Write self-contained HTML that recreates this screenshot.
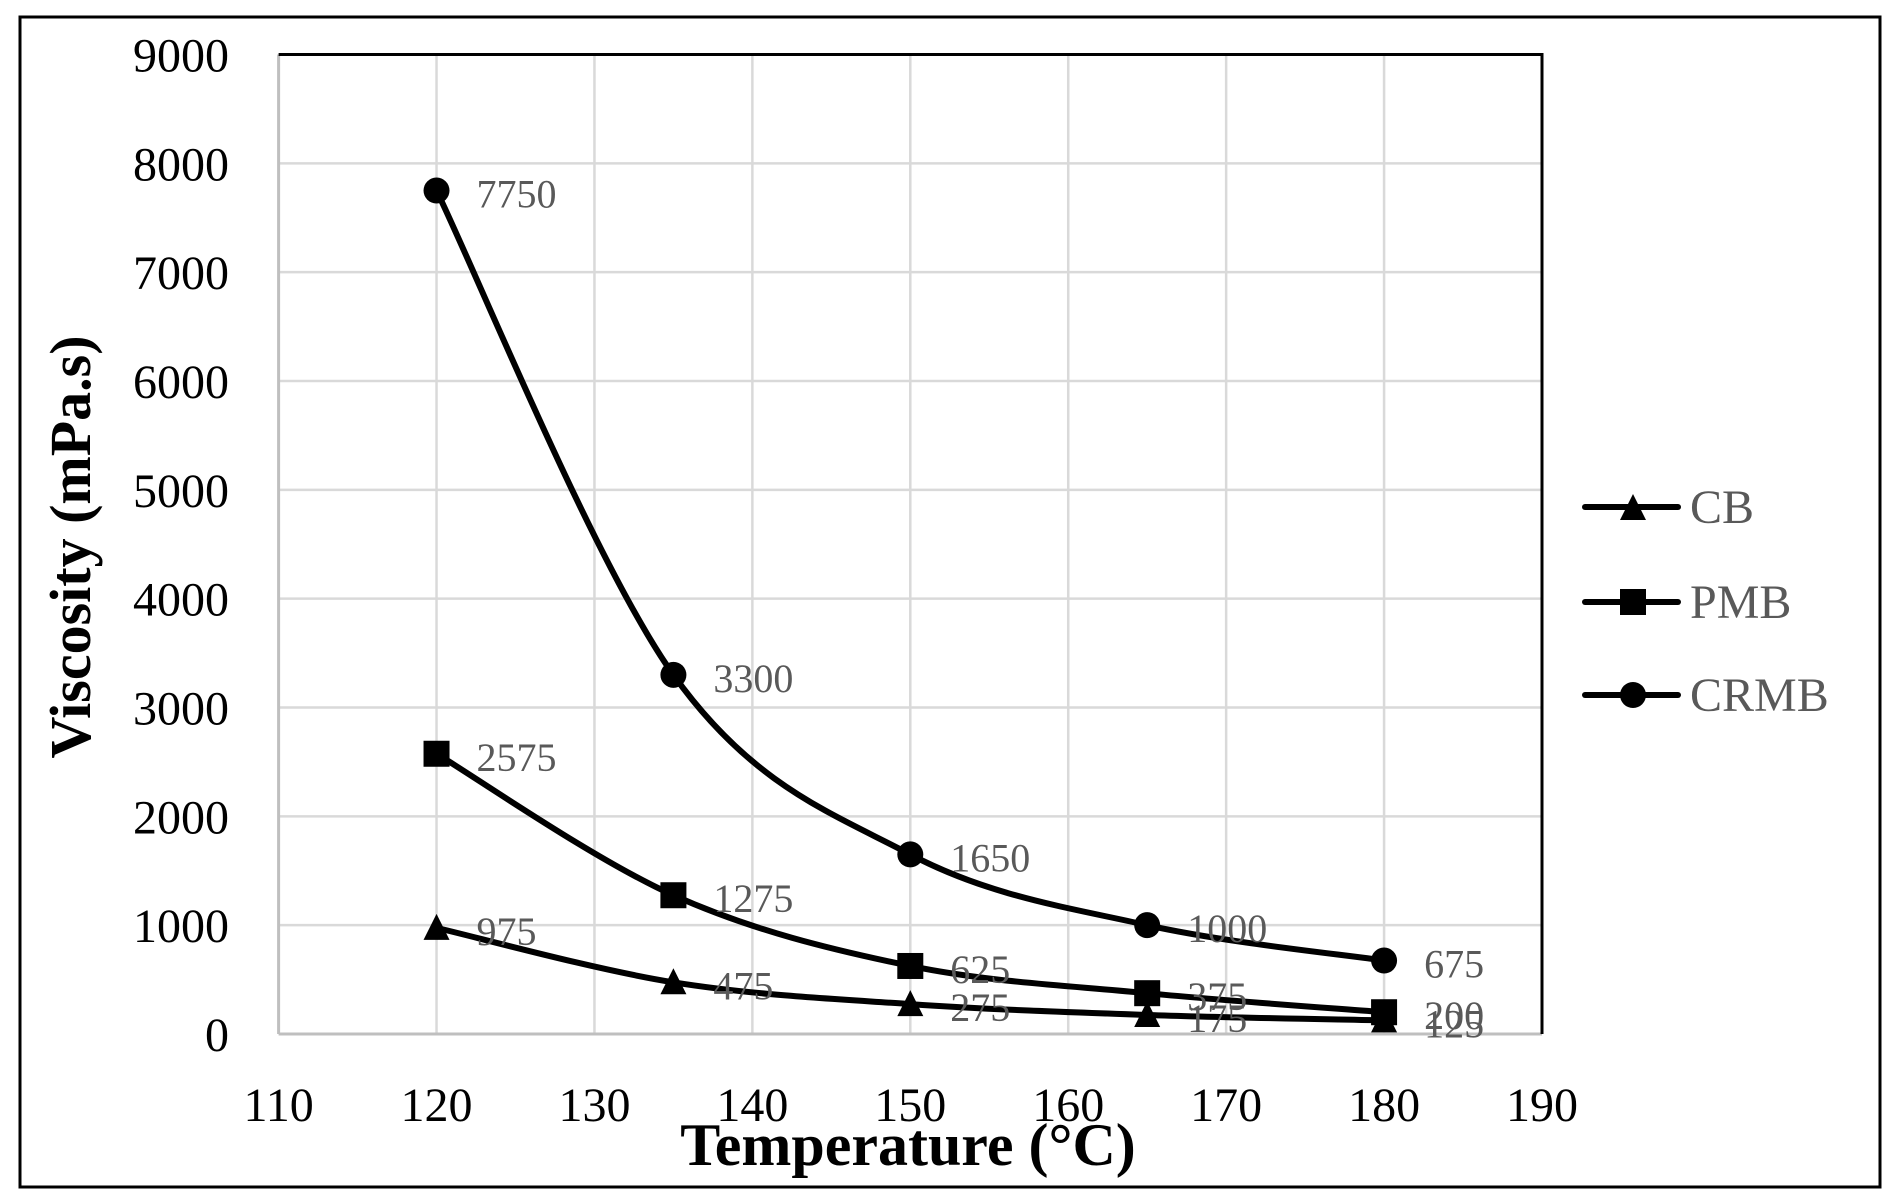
<!DOCTYPE html>
<html><head><meta charset="utf-8"><style>
html,body{margin:0;padding:0;background:#fff;}
svg{display:block;}
text{font-family:"Liberation Serif",serif;}
</style></head><body>
<svg id="s" width="1899" height="1200" xmlns="http://www.w3.org/2000/svg">
<rect x="20" y="17" width="1860" height="1170" fill="#fff" stroke="#000" stroke-width="3"/>
<g id="grid"></g>
<g id="series"></g>
<g id="labels"></g>
<text x="0" y="0" transform="translate(90,547) rotate(-90)" text-anchor="middle" font-size="58" font-weight="bold" fill="#000">Viscosity (mPa.s)</text>
<text x="908" y="1165" text-anchor="middle" font-size="60" font-weight="bold" fill="#000">Temperature (°C)</text>
<g stroke="#000" stroke-width="6" stroke-linecap="round">
<line x1="1585" y1="507" x2="1678" y2="507"/>
<line x1="1585" y1="602" x2="1678" y2="602"/>
<line x1="1585" y1="695" x2="1678" y2="695"/>
</g>
<polygon points="1620,520 1646,520 1633,494" fill="#000"/>
<rect x="1620" y="589" width="26" height="26" fill="#000"/>
<circle cx="1633" cy="695" r="13" fill="#000"/>
<g font-size="48" fill="#595959">
<text x="1690" y="523">CB</text>
<text x="1690" y="618">PMB</text>
<text x="1690" y="711">CRMB</text>
</g>
</svg>
<script>
const NS="http://www.w3.org/2000/svg";
const L=278.6,R=1542,T=54.5,B=1034;
const X=x=>L+(x-110)*(R-L)/80, Y=v=>B-v*(B-T)/9000;
function el(tag,attrs,parent,txt){const e=document.createElementNS(NS,tag);for(const k in attrs)e.setAttribute(k,attrs[k]);if(txt!==undefined)e.textContent=txt;parent.appendChild(e);return e;}
const g=document.getElementById('grid');
for(let i=1;i<=8;i++){el('line',{x1:X(110+i*10),x2:X(110+i*10),y1:T,y2:B,stroke:'#d9d9d9','stroke-width':2.5},g);}
for(let i=1;i<=8;i++){el('line',{x1:L,x2:R,y1:Y(i*1000),y2:Y(i*1000),stroke:'#d9d9d9','stroke-width':2.5},g);}
el('line',{x1:L,x2:L,y1:T,y2:B,stroke:'#bfbfbf','stroke-width':3},g);
el('line',{x1:L,x2:R,y1:B,y2:B,stroke:'#bfbfbf','stroke-width':3},g);
el('line',{x1:L,x2:R+1.5,y1:T,y2:T,stroke:'#000','stroke-width':3},g);
el('line',{x1:R,x2:R,y1:T,y2:B,stroke:'#000','stroke-width':3},g);
for(let i=0;i<=9;i++){el('text',{x:229,y:Y(i*1000)+17,'text-anchor':'end','font-size':48,fill:'#000'},g,String(i*1000));}
for(let i=0;i<=8;i++){el('text',{x:X(110+i*10),y:1121,'text-anchor':'middle','font-size':48,fill:'#000'},g,String(110+i*10));}
const xs=[120,135,150,165,180];
const data={CB:[975,475,275,175,125],PMB:[2575,1275,625,375,200],CRMB:[7750,3300,1650,1000,675]};
const s=document.getElementById('series'),lb=document.getElementById('labels');
for(const k in data){
 const p=xs.map((x,i)=>[X(x),Y(data[k][i])]);
 let d=`M${p[0][0]},${p[0][1]}`;
 for(let i=0;i<p.length-1;i++){
  const p0=p[Math.max(0,i-1)],p1=p[i],p2=p[i+1],p3=p[Math.min(p.length-1,i+2)];
  const t=1/6;
  d+=` C${p1[0]+(p2[0]-p0[0])*t},${p1[1]+(p2[1]-p0[1])*t} ${p2[0]-(p3[0]-p1[0])*t},${p2[1]-(p3[1]-p1[1])*t} ${p2[0]},${p2[1]}`;
 }
 el('path',{d:d,fill:'none',stroke:'#000','stroke-width':6,'stroke-linejoin':'round'},s);
 p.forEach((q,i)=>{
  if(k=='CB')el('polygon',{points:`${q[0]-13},${q[1]+12} ${q[0]+13},${q[1]+12} ${q[0]},${q[1]-14}`,fill:'#000'},s);
  else if(k=='PMB')el('rect',{x:q[0]-13,y:q[1]-13,width:26,height:26,fill:'#000'},s);
  else el('circle',{cx:q[0],cy:q[1],r:13,fill:'#000'},s);
  el('text',{x:q[0]+40,y:q[1]+17,'font-size':40,fill:'#595959'},lb,String(data[k][i]));
 });
}
</script>
</body></html>
